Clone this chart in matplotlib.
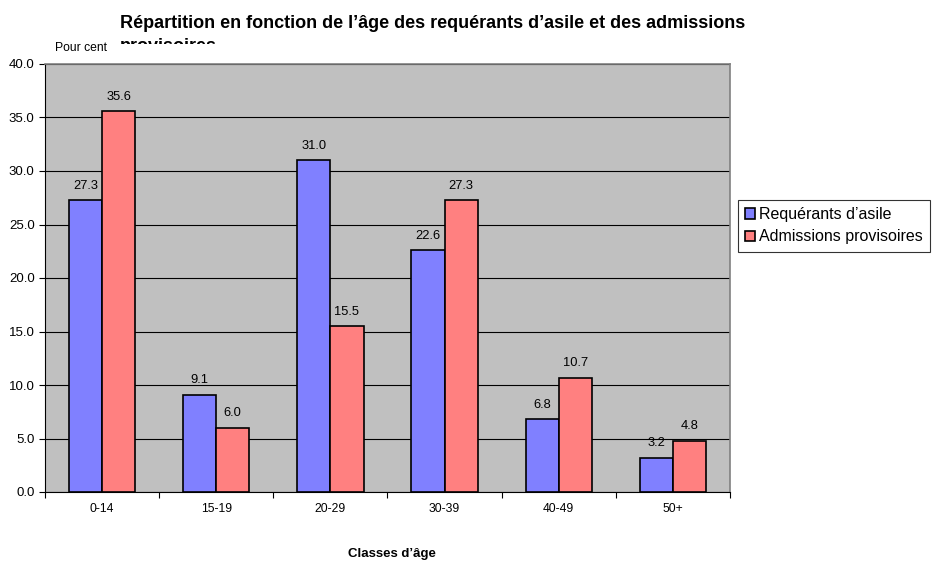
import numpy as np
import matplotlib.pyplot as plt
from matplotlib.patches import Rectangle

plt.rcParams['font.family'] = ['Liberation Sans', 'DejaVu Sans']

# Données
classes = ['0-14', '15-19', '20-29', '30-39', '40-49', '50+']
requerants = [27.3, 9.1, 31.0, 22.6, 6.8, 3.2]
admissions = [35.6, 6.0, 15.5, 27.3, 10.7, 4.8]

bleu = '#8080FF'
rouge = '#FF8080'

fig = plt.figure(figsize=(9.33, 5.62), dpi=100)
ax = fig.add_axes([45 / 933, 70 / 562, 685 / 933, 428 / 562])
ax.set_facecolor('#C0C0C0')

x = np.arange(len(classes))
w = 0.29
b1 = ax.bar(x - w / 2, requerants, w, color=bleu, edgecolor='black', linewidth=1.2, zorder=3)
b2 = ax.bar(x + w / 2, admissions, w, color=rouge, edgecolor='black', linewidth=1.2, zorder=3)

for rects, vals in ((b1, requerants), (b2, admissions)):
    for r, v in zip(rects, vals):
        ax.annotate(f'{v:.1f}', (r.get_x() + r.get_width() / 2, v), xytext=(0, 6),
                    textcoords='offset points', ha='center', va='bottom', fontsize=9.3)

ax.set_xlim(-0.5, len(classes) - 0.5)
ax.set_ylim(0, 40)
ax.set_yticks(np.arange(0, 41, 5))
ax.set_yticklabels([f'{v:.1f}' for v in np.arange(0, 41, 5)], fontsize=9.5)
ax.yaxis.grid(True, color='black', linewidth=0.8, zorder=1)
ax.set_axisbelow(True)

# graduations entre les classes
ax.set_xticks(np.arange(len(classes) + 1) - 0.5)
ax.set_xticklabels([])
ax.set_xticks(x, minor=True)
ax.set_xticklabels(classes, minor=True, fontsize=8.7)
ax.tick_params(axis='x', which='minor', length=0, pad=8)
ax.tick_params(axis='x', which='major', length=4, direction='out')
ax.tick_params(axis='y', length=4, direction='out')

for s in ('top', 'right'):
    ax.spines[s].set_color('#808080')
    ax.spines[s].set_linewidth(1.2)
for s in ('left', 'bottom'):
    ax.spines[s].set_color('black')

# Titre (deuxième ligne partiellement masquée comme dans l'original)
fig.text(120 / 933, 1 - 15 / 562, "Répartition en fonction de l’âge des requérants d’asile et des admissions\nprovisoires",
         fontsize=13, fontweight='bold', ha='left', va='top', linespacing=1.45, zorder=-2)
fig.patches.append(Rectangle((0, 0), 1, 1 - 44 / 562, transform=fig.transFigure,
                             facecolor='white', edgecolor='none', zorder=-1))

fig.text(55 / 933, 1 - 48 / 562, 'Pour cent', fontsize=8.7, ha='left', va='center')
fig.text(392 / 933, 1 - 554 / 562, 'Classes d’âge', fontsize=9.5, fontweight='bold', ha='center', va='center')

leg = fig.legend([b1, b2], ['Requérants d’asile', 'Admissions provisoires'],
                 loc='upper left', bbox_to_anchor=(738 / 933, 1 - 200 / 562),
                 fontsize=11.5, frameon=True, fancybox=False, edgecolor='black',
                 handlelength=0.6, handleheight=0.6, handletextpad=0.25,
                 borderpad=0.45, labelspacing=0.45, borderaxespad=0)
leg.get_frame().set_linewidth(0.8)

fig.savefig('out.png', dpi=100)
